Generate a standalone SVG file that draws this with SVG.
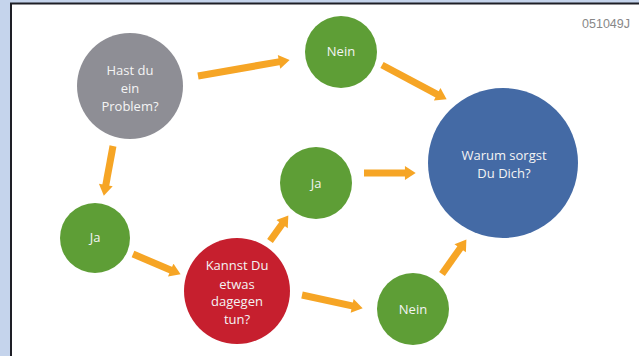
<svg xmlns="http://www.w3.org/2000/svg" width="639" height="356" viewBox="0 0 639 356">
<style>
.node text{font-family:"Open Sans","Liberation Sans",sans-serif;font-size:13px;text-anchor:middle;fill:#f4f4f4}
.green{fill:#5e9e36}
.conn line{stroke:#f6a525;stroke-width:7;fill:none;marker-end:url(#ah)}
</style>
<defs>
<marker id="ah" markerUnits="userSpaceOnUse" markerWidth="12" markerHeight="14" refX="1" refY="6.5" orient="auto" viewBox="0 0 10 13">
<path d="M0,0 L10,6.5 L0,13 z" fill="#f6a525"/>
</marker>
</defs>
<rect x="0" y="0" width="639" height="356" fill="#c5d4ec"/>
<rect x="11" y="3.5" width="640" height="360" fill="#ffffff" stroke="#1e1f26" stroke-width="2"/>
<text x="630" y="28" font-family="Liberation Sans,Arial,sans-serif" font-size="12.5" fill="#888888" text-anchor="end">051049J</text>
<g class="conn">
<line x1="198" y1="76" x2="280.1" y2="61.6"/>
<line x1="382" y1="65" x2="438.1" y2="94.8"/>
<line x1="113" y1="146" x2="105.6" y2="186.1"/>
<line x1="133" y1="254" x2="171.7" y2="270.5"/>
<line x1="270" y1="241" x2="282.7" y2="223.3"/>
<line x1="364" y1="173" x2="406" y2="173"/>
<line x1="302" y1="295" x2="353.2" y2="306.1"/>
<line x1="442" y1="274" x2="460.8" y2="247.4"/>
</g>
<g id="problem" class="node">
<circle cx="130" cy="86" r="53" fill="#8e8e95"/>
<text x="130" y="75">Hast du</text>
<text x="130" y="93">ein</text>
<text x="130" y="111">Problem?</text>
</g>
<g id="nein1" class="node">
<circle class="green" cx="341" cy="52" r="36"/>
<text x="341" y="56">Nein</text>
</g>
<g id="warum" class="node">
<circle cx="503" cy="163" r="75" fill="#446aa5"/>
<text x="504" y="160">Warum sorgst</text>
<text x="504" y="178">Du Dich?</text>
</g>
<g id="ja1" class="node">
<circle class="green" cx="95" cy="238" r="35"/>
<text x="95" y="242">Ja</text>
</g>
<g id="ja2" class="node">
<circle class="green" cx="316" cy="183" r="36"/>
<text x="316" y="188">Ja</text>
</g>
<g id="kannst" class="node">
<circle cx="237" cy="291" r="53" fill="#c61f2e"/>
<text x="237" y="270">Kannst Du</text>
<text x="237" y="289">etwas</text>
<text x="237" y="306">dagegen</text>
<text x="237" y="324">tun?</text>
</g>
<g id="nein2" class="node">
<circle class="green" cx="413" cy="309" r="36"/>
<text x="413" y="314">Nein</text>
</g>
</svg>
